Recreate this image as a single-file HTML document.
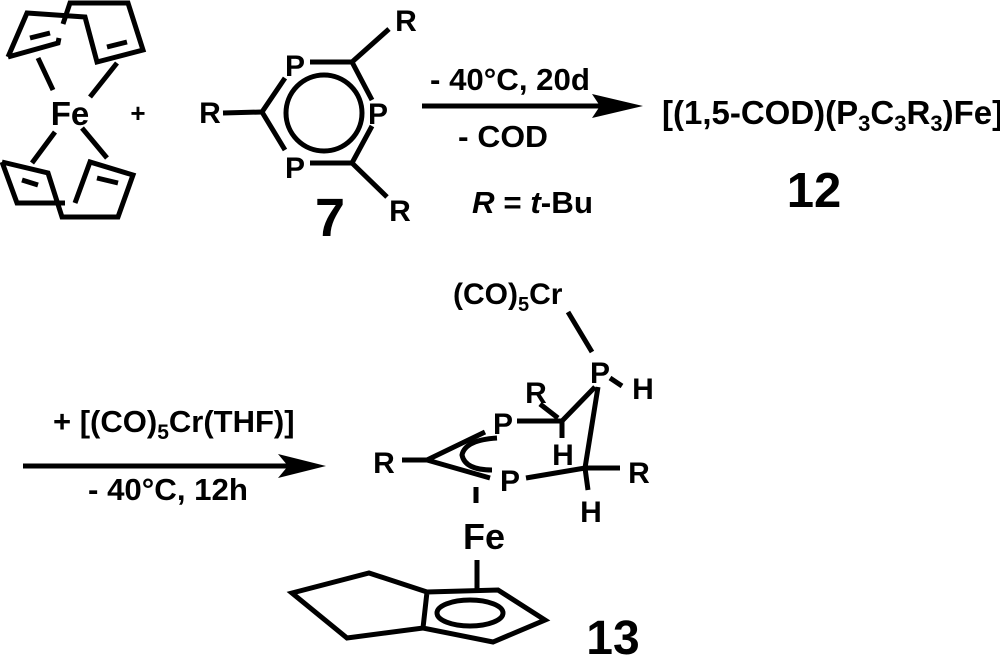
<!DOCTYPE html>
<html><head><meta charset="utf-8"><style>
html,body{margin:0;padding:0;background:#fff}
svg{display:block}
text{font-family:"Liberation Sans",Arial,sans-serif;font-weight:bold;fill:#000}
</style></head><body>
<svg width="1000" height="661" viewBox="0 0 1000 661" xmlns="http://www.w3.org/2000/svg">
<g fill="none" stroke="#000" stroke-width="5" stroke-linejoin="miter">
<path d="M8,57 L27,13 L85,17 L97,62 L143,50 L128,3 L70,3 L63,24 M59,38 L58,43 L8,57"/>
<path d="M30,38 L50,33 M107,47 L127,42"/>
<path d="M38,58 L53,90 M117,63 L90,97"/>
<path d="M2,162 L48,173 L62,217 L118,217 L133,175 L90,162 L75,203 M65,203 L17,203 L2,162"/>
<path d="M22,180 L38,185 M97,178 L118,183"/>
<path d="M55,132 L32,163 M82,128 L107,158"/>
<circle cx="324" cy="113" r="38"/>
<path d="M310,62 L352,62 L372,100 M372,126 L352,163 L310,163 M285,150 L262,112 L285,78"/>
<path d="M352,62 L389,29 M352,163 L387,197 M262,112 L223,113"/>
<path d="M422,106 L600,106"/>
<path d="M23,466 L290,466"/>
<path d="M568,312 L592,352 M610,378 L622,386"/>
<path d="M517,421 L562,421 L562,438 M562,421 L595,387 M540,404 L558,418"/>
<path d="M598,387 L585,468 M526,478 L585,468 L620,468 M585,468 L588,490"/>
<path d="M402,460 L427,460 L485,432 M427,460 L490,478"/>
<path d="M497,438 Q465,440 462,455 Q465,470 492,470"/>
<path d="M476,487 L476,503"/>
<path d="M477,560 L477,590"/>
<path d="M292,593 L369,573 L427,592 L498,590 L545,620 L493,642 L423,628 L347,638 Z M427,592 L423,628"/>
<ellipse cx="470" cy="613" rx="33" ry="13"/>
</g>
<path d="M643,106 L592,94 L600,106 L592,118 Z" fill="#000"/>
<path d="M326,466 L278,454 L288,466 L278,478 Z" fill="#000"/>
<g font-size="30">
<text x="70" y="125" text-anchor="middle" font-size="33">Fe</text>
<text x="138" y="122" text-anchor="middle" font-size="26">+</text>
<text x="295" y="76" text-anchor="middle">P</text>
<text x="378" y="124" text-anchor="middle">P</text>
<text x="295" y="178" text-anchor="middle">P</text>
<text x="210" y="123" text-anchor="middle">R</text>
<text x="406" y="31" text-anchor="middle">R</text>
<text x="400" y="221" text-anchor="middle">R</text>
<text x="330" y="236" text-anchor="middle" font-size="54">7</text>
<text x="430" y="90" font-size="31" textLength="160" lengthAdjust="spacingAndGlyphs">- 40°C, 20d</text>
<text x="458" y="147" font-size="31" textLength="90" lengthAdjust="spacingAndGlyphs">- COD</text>
<text x="472" y="213" font-size="31" textLength="121" lengthAdjust="spacingAndGlyphs"><tspan font-style="italic">R</tspan> = <tspan font-style="italic">t</tspan>-Bu</text>
<text x="662" y="124" font-size="33">[(1,5-COD)(P<tspan font-size="22" dy="7">3</tspan><tspan dy="-7">C</tspan><tspan font-size="22" dy="7">3</tspan><tspan dy="-7">R</tspan><tspan font-size="22" dy="7">3</tspan><tspan dy="-7">)Fe]</tspan></text>
<text x="814" y="207" text-anchor="middle" font-size="49">12</text>
<text x="53" y="432" font-size="31">+ [(CO)<tspan font-size="21" dy="7">5</tspan><tspan dy="-7">Cr(THF)]</tspan></text>
<text x="88" y="500" font-size="31" textLength="160" lengthAdjust="spacingAndGlyphs">- 40°C, 12h</text>
<text x="453" y="304" font-size="30">(CO)<tspan font-size="20" dy="7">5</tspan><tspan dy="-7">Cr</tspan></text>
<text x="600" y="383" text-anchor="middle">P</text>
<text x="643" y="399" text-anchor="middle">H</text>
<text x="536" y="403" text-anchor="middle">R</text>
<text x="503" y="434" text-anchor="middle">P</text>
<text x="563" y="465" text-anchor="middle">H</text>
<text x="384" y="473" text-anchor="middle">R</text>
<text x="510" y="491" text-anchor="middle">P</text>
<text x="639" y="483" text-anchor="middle">R</text>
<text x="591" y="522" text-anchor="middle">H</text>
<text x="484" y="549" text-anchor="middle" font-size="36">Fe</text>
<text x="613" y="654" text-anchor="middle" font-size="48">13</text>
</g>
</svg>
</body></html>
